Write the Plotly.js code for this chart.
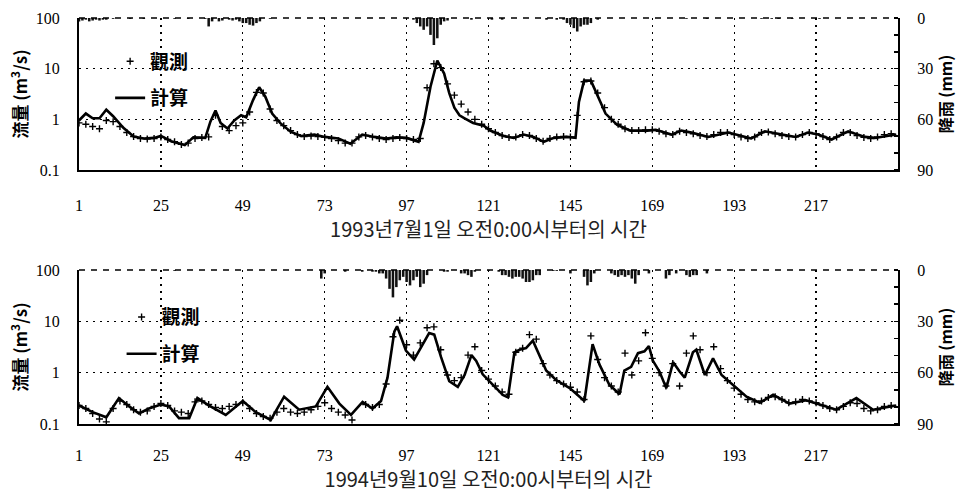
<!DOCTYPE html>
<html>
<head>
<meta charset="utf-8">
<script src="https://cdn.plot.ly/plotly-3.0.1.min.js"></script>
<style>html,body{margin:0;padding:0;background:#fff;}#chart{width:964px;height:499px;}</style>
</head>
<body>
<div id="chart"></div>
<script>
// ---------- Data ----------
const xTickVals = [1, 25, 49, 73, 97, 121, 145, 169, 193, 217];
const flowTickVals = [0.1, 1, 10, 100];
const flowTickText = ['0.1', '1', '10', '100'];
const rainTickVals = [0, 30, 60, 90];

const legendObs = '觀測';
const legendCalc = '計算';
const xTitle1 = '1993년7월1일 오전0:00시부터의 시간';
const xTitle2 = '1994년9월10일 오전0:00시부터의 시간';
const yTitleFlow = '流量 (m<sup>3</sup>/s)';
const yTitleRain = '降雨 (mm)';

// Panel 1 (1993) – computed discharge
const calcHour1 = [1,3,5,7,9,11,14,17,20,23,25,28,32,34.5,38,39.5,41,42.5,44.5,46.5,48.5,50,52,53.8,55.6,57.6,60,63,66,70,73,77,80.5,84,87.5,91,94,97,100.5,102,104,106,108,109.5,111,112.5,114,116.5,119.6,121.5,125.4,128.4,131.3,134.2,137.2,140.1,144,146.5,147.5,149,151,153,155.3,158.7,162.6,167.5,170,174.6,177.5,180.5,185.4,191.3,198,202,207,211,214.7,217.6,221.5,226.4,231.3,234.2,240.5];
const calcFlow1 = [0.95,1.3,1.05,1.05,1.55,1.15,0.68,0.46,0.42,0.43,0.47,0.37,0.31,0.44,0.43,0.9,1.5,0.85,0.66,0.95,1.2,1.1,2.4,4.3,2.8,1.3,0.84,0.57,0.47,0.5,0.45,0.42,0.33,0.5,0.45,0.42,0.44,0.43,0.36,0.85,4.4,14.5,8.0,3.3,1.7,1.2,1.05,0.85,0.75,0.6,0.47,0.43,0.5,0.45,0.36,0.43,0.45,0.43,2.2,5.8,5.8,2.8,1.3,0.78,0.6,0.6,0.62,0.5,0.6,0.55,0.45,0.55,0.42,0.58,0.5,0.45,0.55,0.5,0.4,0.58,0.45,0.43,0.5];

// Panel 1 – observed discharge (every 2 h, from hour 1)
const obsFlow1 = [0.85,0.8,0.72,0.65,0.95,0.9,0.72,0.55,0.46,0.42,0.41,0.42,0.45,0.4,0.36,0.32,0.34,0.42,0.44,0.45,
  1.2,0.72,0.6,0.75,0.85,1.4,3.4,3.3,1.6,0.95,0.75,0.6,0.5,0.46,0.47,0.46,0.44,0.42,0.38,0.34,
  0.34,0.45,0.48,0.45,0.42,0.4,0.42,0.44,0.42,0.4,0.42,4.2,12.5,10.5,5.0,3.0,2.0,1.4,1.0,0.8,
  0.65,0.55,0.48,0.44,0.45,0.5,0.48,0.42,0.37,0.42,0.45,0.46,0.45,1.2,5.5,5.7,3.3,1.7,1.0,0.8,
  0.65,0.6,0.6,0.62,0.62,0.58,0.52,0.5,0.58,0.55,0.52,0.48,0.46,0.5,0.55,0.55,0.5,0.45,0.42,0.45,
  0.55,0.56,0.52,0.48,0.46,0.45,0.5,0.55,0.52,0.46,0.4,0.45,0.55,0.55,0.48,0.44,0.42,0.45,0.5,0.52];

// Panel 1 – rainfall (mm/h)
const rainHour1 = [1,2,3,4,5,6,7,8,9,11,16,20,29,33,38,39,40,42,43,45,46,47,48,49,50,51,52,53,54,57,99,100,101,102,103,104,105,106,107,108,109,116,122,125,138,141,143,144,145,146,147,148,149,150,151,153,179,185,201,204,206,210,218];
const rainMm1 = [2,1.5,1,2,1.5,1,1.5,1,1,0.5,0.5,0.5,0.5,0.5,0.5,5,2,2,1.5,1,1.5,1,2,3,3,4,4.5,3,2,0.5,1,3,5,7,5,10,16,12,4,2,1.5,1,1,1,1,1,1,3,4,6,8,5,4,4,3,1,0.5,0.5,0.5,0.5,0.5,0.5,0.5];

// Panel 2 (1994) – computed discharge
const calcHour2 = [1,5,9,12.7,15.7,18.6,21.5,25,27.4,30.3,33.3,35.7,39,44,49,52.8,57.2,61.1,65.5,70.4,73.8,77.3,80.7,84.1,87,89.5,91.4,92.4,93.4,94.2,95.3,96.8,99.2,101.7,103.6,105.1,107.1,109.5,112,114,116,117.4,119.3,122.3,125.2,126.7,128.6,130.1,132,134,136,137.9,140.8,144.8,149.1,151.5,153.5,156.4,159.4,160.8,162.8,164.8,166.7,168,169.2,171.1,173.1,175.1,177,178.5,180.9,181.9,184.4,186.8,189.3,192.7,196.6,200.5,204.4,209.2,214.1,217.1,222.9,228.8,233.7,240.5];
const calcFlow2 = [0.23,0.17,0.135,0.32,0.22,0.16,0.2,0.24,0.22,0.13,0.13,0.32,0.23,0.15,0.28,0.17,0.12,0.34,0.19,0.22,0.53,0.25,0.15,0.27,0.2,0.28,0.8,2.5,6.3,8.0,5.0,2.7,1.8,3.5,5.9,5.5,2.0,0.68,0.53,0.9,2.2,1.7,0.93,0.58,0.37,0.33,2.5,2.8,3.0,4.2,2.1,1.1,0.72,0.5,0.28,3.6,1.45,0.58,0.38,1.1,1.3,2.4,2.6,3.3,1.7,1.05,0.5,1.6,1.05,0.8,2.5,2.8,0.9,1.9,0.9,0.58,0.34,0.26,0.37,0.25,0.29,0.25,0.19,0.32,0.19,0.23];

// Panel 2 – observed discharge (every 2 h, from hour 1; null = below axis)
const obsFlow2 = [0.23,0.2,0.16,0.125,0.11,0.2,0.28,0.24,0.19,0.17,0.18,0.22,0.25,0.23,0.18,0.17,0.16,0.27,0.28,0.24,
  0.21,0.2,0.22,0.24,0.26,0.2,0.16,0.14,0.13,0.17,0.2,0.17,0.16,0.17,0.19,0.22,0.26,0.2,0.17,0.15,
  0.12,null,0.24,0.21,0.24,0.6,5.0,10.5,3.5,2.2,3.8,7.5,7.8,2.8,0.9,0.7,0.8,2.2,3.2,1.1,
  0.75,0.55,0.42,0.38,2.5,3.0,5.5,4.5,1.5,0.9,0.7,0.6,0.52,0.42,0.3,5.2,1.8,0.8,0.55,0.42,
  2.4,0.9,1.7,6.0,1.9,1.0,0.55,1.5,0.55,2.4,5.2,2.8,1.0,3.2,1.2,0.7,0.5,0.38,0.3,0.27,
  0.28,0.33,0.34,0.3,0.26,0.27,0.3,0.28,0.26,0.23,0.2,0.19,0.22,0.26,0.25,0.2,0.18,0.19,0.22,0.23];

// Panel 2 – rainfall (mm/h)
const rainHour2 = [29,72,73,79,84,87,88,89,90,91,92,93,94,95,96,97,98,99,100,101,102,103,108,109,113,114,115,116,117,121,124,125,126,127,128,129,130,131,132,133,134,135,136,140,141,145,149,150,151,152,157,158,159,160,161,162,163,164,165,168,173,174,176,179,180,181,182,185];
const rainMm2 = [0.5,5,2,1,1,1,1,2,2,5,11,16,10,6,4,7,9,6,4,10,8,3,1,1,2,2,3,4,1,0.5,1,3,3,4,5,4,4,5,7,7,6,3,3,0.5,0.5,2,4,9,7,2,2,3,4,3,4,3,5,8,3,2,5,3,2,3,4,3,3,2];

// observation hours: every 2 hours from hour 1
const obsHour = obsFlow1.map((_, i) => 1 + 2 * i);

// ---------- Styling ----------
const BLACK = '#000';
const serif = 'Liberation Serif, Times New Roman, serif';
const cjk = 'Noto Sans CJK TC, Noto Sans CJK KR, sans-serif';
const kr = 'Noto Sans CJK KR, sans-serif';
const tickFont = {family: serif, size: 16, color: BLACK};
const gridDash = '2px,5px';

function flowTraces(calcH, calcF, obsF, xa, ya, leg) {
  return [
    {x: obsHour, y: obsF, xaxis: xa, yaxis: ya, type: 'scatter', mode: 'markers', name: legendObs,
     legend: leg, legendgroup: leg + 'o', cliponaxis: true,
     marker: {symbol: 'cross-thin', size: 5, color: BLACK, line: {color: BLACK, width: 1.4}}},
    {x: calcH, y: calcF, xaxis: xa, yaxis: ya, type: 'scatter', mode: 'lines', name: legendCalc,
     legend: leg, legendgroup: leg + 'c', line: {color: BLACK, width: 2.6}}
  ];
}
function rainTrace(h, mm, xa, ya) {
  return {x: h, y: mm, xaxis: xa, yaxis: ya, type: 'bar', width: 0.75, showlegend: false,
          marker: {color: '#111', line: {width: 0}}};
}

const data = [
  rainTrace(rainHour1, rainMm1, 'x', 'y2'),
  rainTrace(rainHour2, rainMm2, 'x2', 'y4'),
  ...flowTraces(calcHour1, calcFlow1, obsFlow1, 'x', 'y', 'legend'),
  ...flowTraces(calcHour2, calcFlow2, obsFlow2, 'x2', 'y3', 'legend2')
];

function xAxis(anchor, title, standoff) {
  return {anchor: anchor, domain: [0, 1], range: [1, 241], tickmode: 'array', tickvals: xTickVals,
    showgrid: true, gridcolor: BLACK, gridwidth: 1.3, griddash: gridDash, zeroline: false,
    showline: true, linecolor: BLACK, linewidth: 2, ticks: '', ticklabelstandoff: standoff,
    tickfont: tickFont, title: {text: title, font: {family: kr, size: 20, color: '#222'}, standoff: 8}};
}
function flowAxis(domain) {
  return {domain: domain, type: 'log', range: [-1, 2], tickmode: 'array', tickvals: flowTickVals,
    ticktext: flowTickText, showgrid: true, gridcolor: BLACK, gridwidth: 1.3, griddash: gridDash,
    zeroline: false, showline: true, linecolor: BLACK, linewidth: 2, ticks: '', ticklabelstandoff: 14,
    tickfont: tickFont, title: {text: yTitleFlow, font: {family: cjk, size: 17, color: BLACK, weight: 'bold'}, standoff: 4}};
}
function rainAxis(over, anchor) {
  return {overlaying: over, anchor: anchor, side: 'right', range: [90, 0], tickmode: 'array',
    tickvals: rainTickVals, showgrid: false, zeroline: false, showline: true, linecolor: BLACK,
    linewidth: 2, ticks: '', ticklabelstandoff: 14, tickfont: tickFont,
    minor: {dtick: 10, ticks: 'inside', ticklen: 4, tickcolor: BLACK, tickwidth: 1.5, showgrid: false},
    title: {text: yTitleRain, font: {family: cjk, size: 16, color: BLACK, weight: 'bold'}, standoff: 8}};
}
const legendBase = {bgcolor: 'rgba(0,0,0,0)', borderwidth: 0, traceorder: 'grouped', tracegroupgap: 9,
  font: {family: cjk, size: 19, color: BLACK, weight: 'bold'}, xanchor: 'left', yanchor: 'top',
  itemsizing: 'trace'};

// dashed top frame of each panel
function topFrame(xref, yref) {
  return {type: 'line', xref: xref + ' domain', yref: yref + ' domain', x0: 0, x1: 1, y0: 1, y1: 1,
          line: {color: BLACK, width: 1.5, dash: '6px,6px'}, layer: 'above'};
}

const layout = {
  width: 964, height: 499,
  margin: {l: 79, r: 66, t: 18, b: 75},
  paper_bgcolor: '#fff', plot_bgcolor: '#fff',
  showlegend: true,
  xaxis: xAxis('y', xTitle1, 20),
  xaxis2: xAxis('y3', xTitle2, 16),
  yaxis: flowAxis([0.6256, 1]),
  yaxis2: rainAxis('y', 'x'),
  yaxis3: flowAxis([0, 0.3793]),
  yaxis4: rainAxis('y3', 'x2'),
  shapes: [topFrame('x', 'y'), topFrame('x2', 'y3')],
  legend: Object.assign({}, legendBase, {x: 0.038, y: 0.94}),
  legend2: Object.assign({}, legendBase, {x: 0.052, y: 0.31})
};

Plotly.newPlot('chart', data, layout, {displayModeBar: false, staticPlot: true});
</script>
</body>
</html>
